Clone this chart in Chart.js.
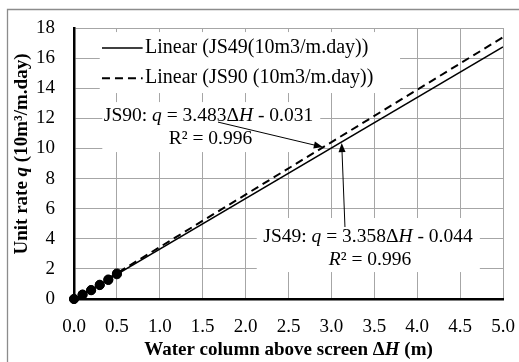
<!DOCTYPE html>
<html>
<head>
<meta charset="utf-8">
<script src="https://cdn.jsdelivr.net/npm/chart.js@4.4.0/dist/chart.umd.min.js"></script>
<style>
	html, body { margin: 0; padding: 0; background: #fff; }
	#wrap { width: 519px; height: 362px; }
</style>
</head>
<body>
<div id="wrap"><canvas id="myChart" width="519" height="362"></canvas></div>
<script>
// measured points (water column above screen, m)
const headX = [0.0, 0.1, 0.2, 0.3, 0.4, 0.5];
const js49Rate = [0.0, 0.28, 0.58, 0.92, 1.26, 1.64];
const js90Rate = [0.0, 0.30, 0.60, 0.95, 1.30, 1.70];

// linear trendlines, end points over the x range
const trendX = [0.0, 5.0];
const js49Trend = [-0.044, 16.746];
const js90Trend = [-0.031, 17.384];

const xTickLabels = ["0.0", "0.5", "1.0", "1.5", "2.0", "2.5", "3.0", "3.5", "4.0", "4.5", "5.0"];
const yTickLabels = ["0", "2", "4", "6", "8", "10", "12", "14", "16", "18"];

const serif = "'Liberation Serif', 'Times New Roman', serif";

function toPoints(xs, ys) {
	return xs.map((x, i) => ({ x: x, y: ys[i] }));
}

// draw a line of text made of runs with different styles, centred on cx
function drawRuns(ctx, runs, cx, cy, size, weight) {
	let total = 0;
	runs.forEach((r) => {
		ctx.font = (r.italic ? "italic " : "") + weight + " " + size + "px " + serif;
		r.w = ctx.measureText(r.t).width;
		total += r.w;
	});
	let x = cx - total / 2;
	ctx.textAlign = "left";
	ctx.textBaseline = "middle";
	ctx.fillStyle = "#000";
	runs.forEach((r) => {
		ctx.font = (r.italic ? "italic " : "") + weight + " " + size + "px " + serif;
		ctx.fillText(r.t, x, cy);
		x += r.w;
	});
}

function arrow(ctx, x1, y1, x2, y2) {
	const a = Math.atan2(y2 - y1, x2 - x1);
	const len = 9, half = 3.5;
	ctx.strokeStyle = "#000";
	ctx.lineWidth = 1;
	ctx.beginPath();
	ctx.moveTo(x1, y1);
	ctx.lineTo(x2 - Math.cos(a) * len * 0.8, y2 - Math.sin(a) * len * 0.8);
	ctx.stroke();
	ctx.fillStyle = "#000";
	ctx.beginPath();
	ctx.moveTo(x2, y2);
	ctx.lineTo(x2 - Math.cos(a) * len + Math.sin(a) * half, y2 - Math.sin(a) * len - Math.cos(a) * half);
	ctx.lineTo(x2 - Math.cos(a) * len - Math.sin(a) * half, y2 - Math.sin(a) * len + Math.cos(a) * half);
	ctx.closePath();
	ctx.fill();
}

// white boxes for legend and equation labels, drawn over the grid
const boxesPlugin = {
	id: "boxes",
	beforeDatasetsDraw(chart) {
		const ctx = chart.ctx;
		const xs = chart.scales.x, ys = chart.scales.y;
		const box = (x1, y1, x2, y2) => {
			const px1 = xs.getPixelForValue(x1), px2 = xs.getPixelForValue(x2);
			const py1 = ys.getPixelForValue(y1), py2 = ys.getPixelForValue(y2);
			ctx.fillRect(px1, py1, px2 - px1, py2 - py1);
		};
		ctx.save();
		ctx.fillStyle = "#fff";
		box(0.30, 17.73, 3.80, 13.68); // legend
		box(0.33, 13.08, 2.87, 9.76); // JS90 label
		box(2.13, 5.38, 4.73, 1.79); // JS49 label
		ctx.restore();
	},
	afterDraw(chart) {
		const ctx = chart.ctx;
		const xs = chart.scales.x, ys = chart.scales.y;
		const px = (v) => xs.getPixelForValue(v);
		const py = (v) => ys.getPixelForValue(v);
		const area = chart.chartArea;
		ctx.save();

		// outer frame
		ctx.strokeStyle = "#8c8c8c";
		ctx.lineWidth = 1.3;
		ctx.beginPath();
		ctx.moveTo(7.5, 362);
		ctx.lineTo(7.5, 9.5);
		ctx.lineTo(519, 9.5);
		ctx.stroke();

		// legend (trendlines only)
		const trends = chart.data.datasets.filter((d) => d.trend);
		const rowY = [py(16.67), py(14.67)];
		trends.forEach((d, i) => {
			ctx.strokeStyle = "#000";
			ctx.lineWidth = d.borderWidth;
			ctx.setLineDash(d.borderDash || []);
			ctx.beginPath();
			ctx.moveTo(px(0.326), rowY[i]);
			ctx.lineTo(px(0.80), rowY[i]);
			ctx.stroke();
			ctx.setLineDash([]);
			ctx.font = "20px " + serif;
			ctx.fillStyle = "#000";
			ctx.textAlign = "left";
			ctx.textBaseline = "middle";
			ctx.fillText(d.label, px(0.828), rowY[i]);
		});

		// equation labels
		drawRuns(ctx, [
			{ t: "JS90: " }, { t: "q", italic: true }, { t: " = 3.483\u0394" },
			{ t: "H", italic: true }, { t: " - 0.031" }
		], px(1.568), py(12.15), 19.5, "normal");
		drawRuns(ctx, [{ t: "R\u00b2 = 0.996" }], px(1.59), py(10.62), 19.5, "normal");
		drawRuns(ctx, [
			{ t: "JS49: " }, { t: "q", italic: true }, { t: " = 3.358\u0394" },
			{ t: "H", italic: true }, { t: " - 0.044" }
		], px(3.427), py(4.12), 19.5, "normal");
		drawRuns(ctx, [{ t: "R", italic: true }, { t: "\u00b2 = 0.996" }], px(3.45), py(2.59), 19.5, "normal");

		arrow(ctx, px(1.678), py(11.75), px(2.90), py(10.09));
		arrow(ctx, px(3.158), py(4.78), px(3.12), py(10.36));

		// axis titles
		drawRuns(ctx, [
			{ t: "Water column above screen \u0394" }, { t: "H", italic: true }, { t: " (m)" }
		], (area.left + area.right) / 2, 350, 19, "bold");
		ctx.translate(22, 154);
		ctx.rotate(-Math.PI / 2);
		drawRuns(ctx, [
			{ t: "Unit rate " }, { t: "q", italic: true }, { t: " (10m\u00b3/m.day)" }
		], 0, 0, 19, "bold");
		ctx.restore();
	}
};

const ctx = document.getElementById("myChart").getContext("2d");
const myChart = new Chart(ctx, {
	type: "scatter",
	data: {
		datasets: [
			{
				label: "Linear (JS49(10m3/m.day))",
				trend: true,
				type: "line",
				data: toPoints(trendX, js49Trend),
				borderColor: "#000",
				borderWidth: 1.5,
				pointRadius: 0,
				fill: false,
			},
			{
				label: "Linear (JS90 (10m3/m.day))",
				trend: true,
				type: "line",
				data: toPoints(trendX, js90Trend),
				borderColor: "#000",
				borderWidth: 2,
				borderDash: [8, 5],
				pointRadius: 0,
				fill: false,
			},
			{
				label: "JS49",
				data: toPoints(headX, js49Rate),
				backgroundColor: "#000",
				borderColor: "#000",
				pointRadius: 4.5,
				clip: false,
			},
			{
				label: "JS90",
				data: toPoints(headX, js90Rate),
				backgroundColor: "#000",
				borderColor: "#000",
				pointRadius: 4.5,
				clip: false,
			},
		],
	},
	options: {
		responsive: false,
		animation: false,
		devicePixelRatio: 1,
		layout: { padding: { left: 0, right: 16, top: 28, bottom: 0 } },
		plugins: {
			legend: { display: false },
			tooltip: { enabled: false },
		},
		scales: {
			x: {
				type: "linear",
				min: 0,
				max: 5,
				afterFit: (s) => {
					s.height = 63;
					s.paddingLeft = 0;
					s.paddingRight = 0;
				},
				afterBuildTicks: (s) => { s.ticks = xTickLabels.map((t) => ({ value: parseFloat(t) })); },
				ticks: {
					callback: (v) => xTickLabels.find((t) => parseFloat(t) === v),
					color: "#000",
					font: { family: serif, size: 19 },
					padding: 17,
					maxRotation: 0,
				},
				grid: { color: "#a6a6a6", lineWidth: 1, drawTicks: false },
				border: { color: "#000", width: 2.5 },
			},
			y: {
				type: "linear",
				min: 0,
				max: 18,
				afterFit: (s) => {
					s.width = 74;
					s.paddingTop = 0;
					s.paddingBottom = 0;
				},
				afterBuildTicks: (s) => { s.ticks = yTickLabels.map((t) => ({ value: parseFloat(t) })); },
				ticks: {
					callback: (v) => yTickLabels.find((t) => parseFloat(t) === v),
					color: "#000",
					font: { family: serif, size: 19 },
					padding: 19,
				},
				grid: { color: "#a6a6a6", lineWidth: 1, drawTicks: false },
				border: { color: "#000", width: 2.5 },
			},
		},
	},
	plugins: [boxesPlugin],
});
</script>
</body>
</html>
